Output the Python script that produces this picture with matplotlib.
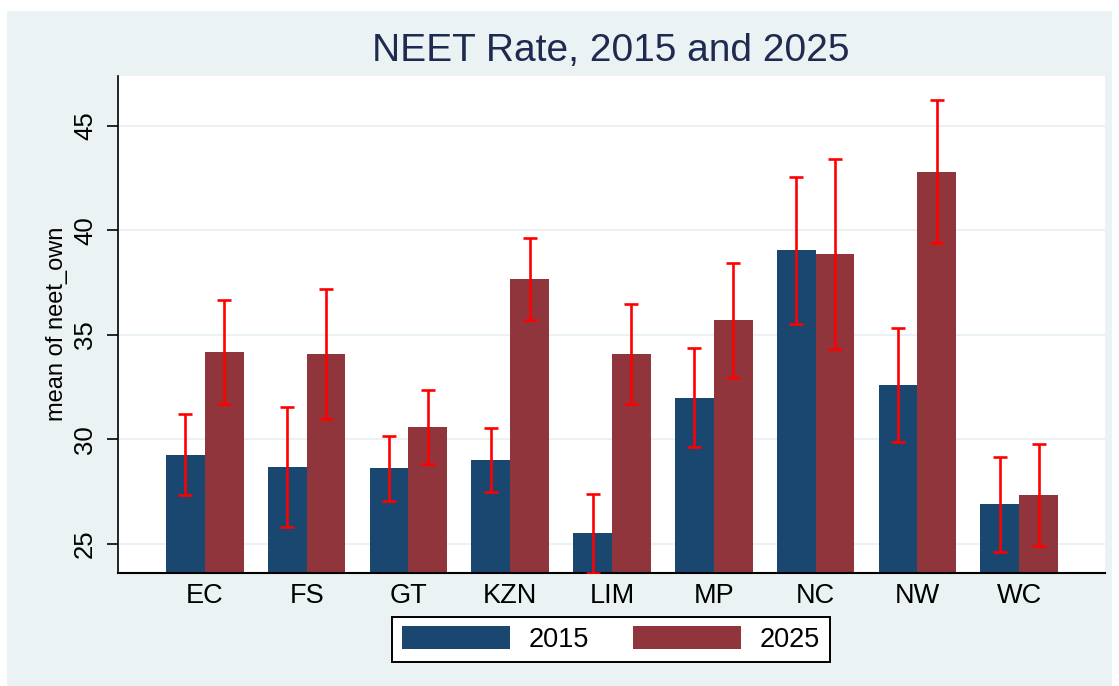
import matplotlib
matplotlib.use("Agg")
import matplotlib.pyplot as plt
import numpy as np
from matplotlib.patches import Rectangle, Patch

plt.rcParams['font.family'] = ['Liberation Sans', 'DejaVu Sans']

provinces = ["EC", "FS", "GT", "KZN", "LIM", "MP", "NC", "NW", "WC"]
mean_2015 = [29.25, 28.68, 28.63, 29.02, 25.53, 32.00, 39.06, 32.60, 26.91]
lo_2015 = [27.34, 25.83, 27.07, 27.47, 23.60, 29.64, 35.53, 29.88, 24.62]
hi_2015 = [31.20, 31.54, 30.16, 30.55, 27.41, 34.37, 42.55, 35.33, 29.16]
mean_2025 = [34.19, 34.08, 30.59, 37.67, 34.08, 35.71, 38.87, 42.80, 27.34]
lo_2025 = [31.69, 30.98, 28.83, 35.71, 31.69, 32.95, 34.34, 39.38, 24.90]
hi_2025 = [36.67, 37.18, 32.36, 39.64, 36.46, 38.44, 43.39, 46.23, 29.80]
years = ["2015", "2025"]
yticks = [25, 30, 35, 40, 45]

W, H = 1119, 686
fig = plt.figure(figsize=(W / 100, H / 100), dpi=100, facecolor="white")
bg = "#eaf2f3"
fig.patches.append(Rectangle((7 / W, 0), (1112 - 7) / W, 1 - 11 / H,
                             transform=fig.transFigure, facecolor=bg,
                             edgecolor="none", zorder=-10))

ax = fig.add_axes([118 / W, 1 - 573 / H, (1105 - 118) / W, (573 - 76) / H])
ax.set_facecolor("white")

blue = "#1a476f"
red = "#90353b"
x = np.arange(len(provinces))
bw = 0.381
m15 = np.array(mean_2015); m25 = np.array(mean_2025)
ax.bar(x - bw / 2, m15, width=bw, color=blue, zorder=2)
ax.bar(x + bw / 2, m25, width=bw, color=red, zorder=2)

err15 = [m15 - np.array(lo_2015), np.array(hi_2015) - m15]
err25 = [m25 - np.array(lo_2025), np.array(hi_2025) - m25]
ax.errorbar(x - bw / 2, m15, yerr=err15, fmt="none", ecolor="#ff0000",
            elinewidth=1.9, capsize=5, capthick=1.9, zorder=3)
ax.errorbar(x + bw / 2, m25, yerr=err25, fmt="none", ecolor="#ff0000",
            elinewidth=1.9, capsize=5, capthick=1.9, zorder=3)

ax.set_xlim(-0.853, 8.843)
ax.set_ylim(23.61, 47.38)
ax.set_yticks(yticks)
ax.set_yticklabels([str(t) for t in yticks], rotation=90, va="center",
                   fontsize=18.5)
ax.set_xticks(x)
ax.set_xticklabels(provinces, fontsize=19.5)
ax.tick_params(axis="x", length=0, pad=7)
ax.tick_params(axis="y", length=8, width=1.2, pad=7)
ax.yaxis.grid(True, color=bg, linewidth=1.5, zorder=1)
ax.set_axisbelow(True)
for s in ["top", "right"]:
    ax.spines[s].set_visible(False)
ax.spines["left"].set_linewidth(1.2)
ax.spines["bottom"].set_linewidth(1.5)

fig.text(57 / W, 1 - 324 / H, "mean of neet_own", rotation=90,
         ha="center", va="center", fontsize=17)
fig.text(611 / W, 1 - 51 / H, "NEET Rate, 2015 and 2025", ha="center",
         va="center", fontsize=28, color="#1e2a4f")

handles = [Patch(facecolor=blue, edgecolor="none"),
           Patch(facecolor=red, edgecolor="none")]
leg = fig.legend(handles, years, loc="center", ncol=2,
                 bbox_to_anchor=(611 / W, 1 - 639.5 / H), fontsize=19.5,
                 frameon=True, fancybox=False, edgecolor="black",
                 framealpha=1.0,
                 handlelength=4.0, handleheight=0.9, handletextpad=0.7,
                 columnspacing=1.6, borderpad=0.35)
leg.get_frame().set_linewidth(1.4)
leg.get_frame().set_facecolor("white")

fig.savefig("out.png", dpi=100, facecolor="white")
